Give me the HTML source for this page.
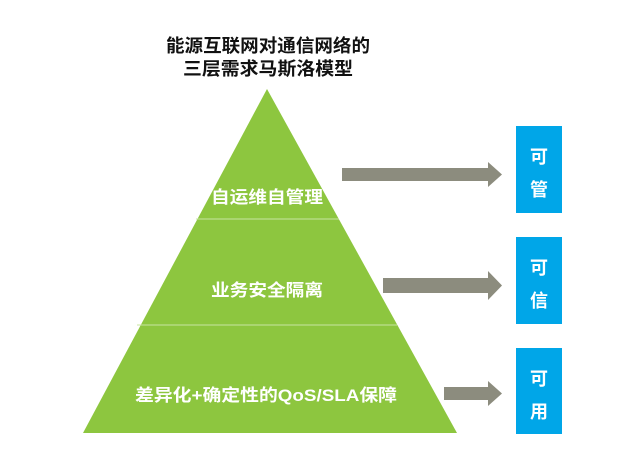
<!DOCTYPE html>
<html><head><meta charset="utf-8"><style>
html,body{margin:0;padding:0;background:#fff;}
svg{display:block;}
text{font-family:"Liberation Sans","Noto Sans CJK SC",sans-serif;font-weight:bold;}
</style></head><body>
<svg width="640" height="475" viewBox="0 0 640 475" xmlns="http://www.w3.org/2000/svg">
<text x="268" y="52" font-size="18" fill="#111" text-anchor="middle" textLength="204" lengthAdjust="spacingAndGlyphs">能源互联网对通信网络的</text>
<text x="268" y="75" font-size="18" fill="#111" text-anchor="middle" textLength="170" lengthAdjust="spacingAndGlyphs">三层需求马斯洛模型</text>
<polygon points="267,89 457,433 83,433" fill="#8dc63f"/>
<line x1="196" y1="219" x2="339" y2="219" stroke="#c8e4a0" stroke-width="1"/>
<line x1="137" y1="325" x2="397" y2="325" stroke="#c8e4a0" stroke-width="1"/>
<text x="267" y="203" font-size="17" fill="#fff" text-anchor="middle" textLength="112" lengthAdjust="spacingAndGlyphs">自运维自管理</text>
<text x="267" y="296" font-size="17" fill="#fff" text-anchor="middle" textLength="112" lengthAdjust="spacingAndGlyphs">业务安全隔离</text>
<text x="266" y="401" font-size="17" fill="#fff" text-anchor="middle" textLength="262" lengthAdjust="spacingAndGlyphs">差异化+确定性的QoS/SLA保障</text>
<polygon points="342,168 488,168 488,162 502,174.5 488,187 488,181 342,181" fill="#8c8c7e"/>
<polygon points="383,278 488,278 488,271 502,285.5 488,300 488,293 383,293" fill="#8c8c7e"/>
<polygon points="444,387 488,387 488,381 502,393.5 488,406 488,400 444,400" fill="#8c8c7e"/>
<rect x="516" y="126" width="46" height="87" fill="#00a6e8"/>
<rect x="516" y="237" width="46" height="87" fill="#00a6e8"/>
<rect x="516" y="348" width="46" height="86" fill="#00a6e8"/>
<g font-size="18" fill="#fff" text-anchor="middle">
<text x="539" y="163">可</text><text x="539" y="196">管</text>
<text x="539" y="274">可</text><text x="539" y="307">信</text>
<text x="539" y="385">可</text><text x="539" y="418">用</text>
</g>
</svg>
</body></html>
